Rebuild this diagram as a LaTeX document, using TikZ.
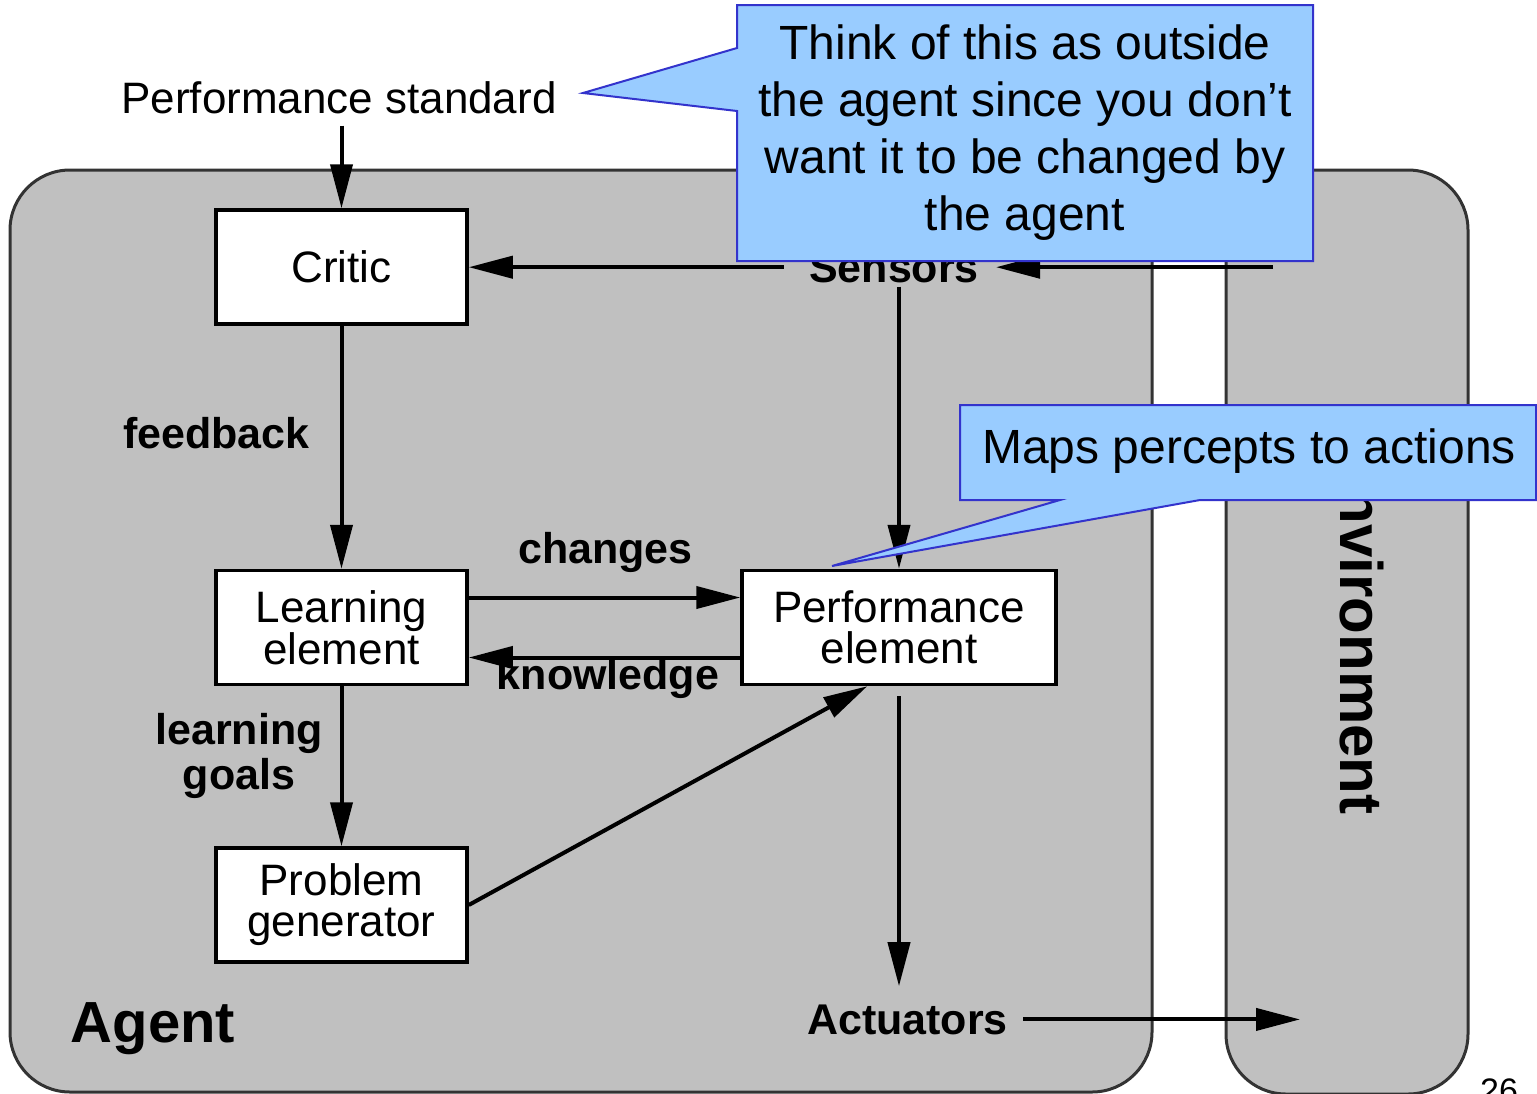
\documentclass[tikz,border=0pt]{standalone}
\usepackage{fontspec}
\setmainfont{Liberation Sans}
\usetikzlibrary{arrows.meta,calc}
\definecolor{agentgrey}{RGB}{192,192,192}
\definecolor{edgegrey}{RGB}{51,51,51}
\definecolor{callfill}{RGB}{153,204,255}
\definecolor{callline}{RGB}{51,51,204}
\begin{document}
\begin{tikzpicture}[x=1pt,y=-1pt,
  region/.style={fill=agentgrey, draw=edgegrey, line width=3pt, rounded corners=60pt},
  box/.style={draw=black, fill=white, line width=3.5pt, minimum width=251pt, minimum height=114pt, align=center, font=\fontsize{44}{41}\selectfont, inner sep=0pt},
  lbl/.style={font=\fontsize{43}{45}\selectfont\bfseries, inner sep=4pt},
  arr/.style={line width=4pt, -{Triangle[length=44pt,width=22pt]}},
  callout/.style={fill=callfill, draw=callline, line width=2pt, line join=miter},
  calltext/.style={font=\fontsize{48}{57}\selectfont, align=center, inner sep=0pt}
]
\useasboundingbox (0,0) rectangle (1537,1093);
\fill[white] (0,0) rectangle (1537,1093);

% regions
\draw[region] (10,170) rectangle (1152,1092);
\draw[region] (1226,170) rectangle (1468,1094);
\node[font=\fontsize{60}{60}\selectfont\bfseries, rotate=-90, anchor=base, inner sep=0pt] (envlabel) at (1340,631) {Environment};
\node[font=\fontsize{58}{60}\selectfont\bfseries, anchor=base, inner sep=4pt] (agentlabel) at (153,1042) {Agent};

% boxes
\node[box] (critic) at (341.5,267) {Critic};
\node[box] (learn) at (341.5,627.5) {Learning\\element};
\node[box, minimum width=314pt] (perf) at (899,627.5) {Performance\\element};
\node[box] (gen) at (341.5,905) {Problem\\generator};

% labels
\node[font=\fontsize{44}{48}\selectfont, anchor=base, inner sep=4pt] (perfstd) at (339,113) {Performance standard};
\node[lbl, anchor=base] (sensors) at (894,282) {Sensors};
\node[lbl, anchor=base] (feedback) at (216.5,448) {feedback};
\node[lbl, anchor=base] (changes) at (605.5,563) {changes};
\node[lbl, anchor=base] (knowledge) at (608,689) {knowledge};
\node[lbl, align=center] (goals) at (239,756) {learning\\goals};
\node[lbl, anchor=base] (actuators) at (907.5,1034) {Actuators};
\node[font=\fontsize{34}{36}\selectfont, anchor=base west, inner sep=0pt] (pagenum) at (1480,1102) {26};

% connectors
\coordinate (envin) at (1273,267);
\coordinate (envout) at (1300,1019);
\draw[arr, shorten <=8pt] (perfstd.south -| critic.north) -- (critic.north);
\draw[arr, shorten >=13pt] (envin |- sensors.east) -- (sensors.east);
\draw[arr, shorten <=21pt] (sensors.west) -- (sensors.west -| critic.east);
\draw[arr] (sensors.south -| perf.north) -- (perf.north);
\draw[arr] (critic.south) -- (learn.north);
\draw[arr] (learn.south) -- (gen.north);
\draw[arr] ([yshift=30pt]learn.east) -- ([yshift=30pt]perf.west);
\draw[arr] ([yshift=-30pt]perf.west) -- ([yshift=-30pt]learn.east);
\draw[arr] (gen.east) -- ($(perf.south west)!0.4!(perf.south east)$);
\draw[arr, shorten <=10pt, shorten >=14pt] (perf.south) -- (perf.south |- actuators.north);
\draw[arr, shorten <=11pt] (actuators.east) -- (actuators.east -| envout);

% callouts
\draw[callout] (737,5) -- (1313,5) -- (1313,261) -- (737,261) -- (737,111) -- (583,93) -- (737,48) -- cycle;
\node[calltext] (note1) at (1025,133) {Think of this as outside\\the agent since you don’t\\want it to be changed by\\the agent};
\draw[callout] (960,405) -- (1536,405) -- (1536,500) -- (1200,500) -- (832,566) -- (1060,500) -- (960,500) -- cycle;
\node[calltext, anchor=base] (note2) at (1249,463) {Maps percepts to actions};
\end{tikzpicture}
\end{document}
